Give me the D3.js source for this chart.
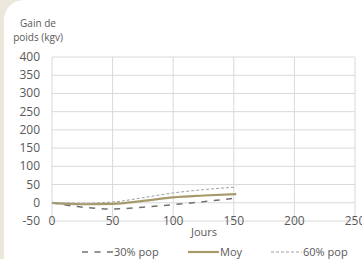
<!DOCTYPE html>
<html>
<head>
<meta charset="utf-8">
<script src="https://cdn.jsdelivr.net/npm/d3@7"></script>
<style>
  body { margin: 0; background: #fff; }
  svg { display: block; }
</style>
</head>
<body>
<div id="chart"></div>
<script>
// chart values
var days = [0, 25, 50, 75, 100, 125, 152];
var pop30 = [0, -12, -17, -12, -5, 3, 13];
var moy = [0, -4, -3, 5, 15, 20, 24];
var pop60 = [0, -1, 2, 14, 27, 36, 43];
var yTicks = [-50, 0, 50, 100, 150, 200, 250, 300, 350, 400];
var xTicks = [0, 50, 100, 150, 200, 250];

var width = 362, height = 259;
var margin = {top: 57, right: 7, bottom: 38, left: 52};

var svg = d3.select("#chart").append("svg")
  .attr("width", width)
  .attr("height", height)
  .style("font-family", "'Open Sans', 'Liberation Sans', sans-serif");

// beige frame on the left with the rounded white panel
svg.append("rect").attr("x", 0).attr("y", 0).attr("width", width).attr("height", height).attr("fill", "#ebe7da");
svg.append("rect").attr("x", 4).attr("y", 0).attr("width", width + 20).attr("height", height + 20)
  .attr("rx", 20).attr("fill", "#ffffff");

var x = d3.scaleLinear().domain([0, 250]).range([margin.left, width - margin.right]);
var y = d3.scaleLinear().domain([-50, 400]).range([height - margin.bottom, margin.top]);

// gridlines
svg.append("g").selectAll("line.h")
  .data(yTicks).enter().append("line")
  .attr("x1", x(0)).attr("x2", x(250))
  .attr("y1", function(d){return y(d)}).attr("y2", function(d){return y(d)})
  .attr("stroke", "#d9d9d9").attr("stroke-width", 1);
svg.append("g").selectAll("line.v")
  .data(xTicks).enter().append("line")
  .attr("x1", function(d){return x(d)}).attr("x2", function(d){return x(d)})
  .attr("y1", y(-50)).attr("y2", y(400))
  .attr("stroke", "#d9d9d9").attr("stroke-width", 1);

// y tick labels
svg.append("g").selectAll("text")
  .data(yTicks).enter().append("text")
  .attr("x", 40)
  .attr("y", function(d){return y(d) + 4})
  .attr("text-anchor", "end")
  .attr("font-size", "12px")
  .attr("fill", "#595959")
  .text(function(d){return d});

// x tick labels
svg.append("g").selectAll("text")
  .data(xTicks).enter().append("text")
  .attr("x", function(d){return x(d)})
  .attr("y", y(-50) + 4)
  .attr("text-anchor", "middle")
  .attr("font-size", "12px")
  .attr("fill", "#595959")
  .text(function(d){return d});

// axis titles
svg.append("text").attr("x", 38).attr("y", 27).attr("text-anchor", "middle")
  .attr("font-size", "10px").attr("fill", "#595959").text("Gain de");
svg.append("text").attr("x", 38).attr("y", 41).attr("text-anchor", "middle")
  .attr("font-size", "10px").attr("fill", "#595959").text("poids (kgv)");
svg.append("text").attr("x", 204).attr("y", 236).attr("text-anchor", "middle")
  .attr("font-size", "11px").attr("fill", "#595959").text("Jours");

// series
var series = [
  {name: "30% pop", values: pop30, color: "#707070", width: 1.5, dash: "6,6.5"},
  {name: "Moy", values: moy, color: "#a69a6b", width: 2.2, dash: null},
  {name: "60% pop", values: pop60, color: "#a0a0a0", width: 1, dash: "3,2"}
];

var line = d3.line()
  .x(function(d){return x(d[0])})
  .y(function(d){return y(d[1])})
  .curve(d3.curveMonotoneX);

series.forEach(function(s) {
  svg.append("path")
    .datum(days.map(function(d, i){return [d, s.values[i]]}))
    .attr("d", line)
    .attr("fill", "none")
    .attr("stroke", s.color)
    .attr("stroke-width", s.width)
    .attr("stroke-dasharray", s.dash);
});

// legend
var legendX = [82, 188, 271];
series.forEach(function(s, i) {
  svg.append("line")
    .attr("x1", legendX[i]).attr("x2", legendX[i] + 31)
    .attr("y1", 252).attr("y2", 252)
    .attr("stroke", s.color)
    .attr("stroke-width", s.width)
    .attr("stroke-dasharray", s.dash);
  svg.append("text")
    .attr("x", legendX[i] + 32).attr("y", 256)
    .attr("font-size", "11px").attr("fill", "#595959")
    .text(s.name);
});
</script>
</body>
</html>
